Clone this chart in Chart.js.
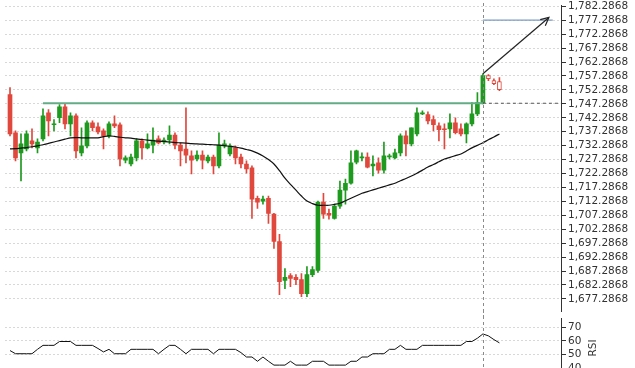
<!DOCTYPE html>
<html>
<head>
<meta charset="utf-8">
<script src="https://cdn.jsdelivr.net/npm/chart.js@4.4.1/dist/chart.umd.min.js"></script>
<style>
  html, body { margin: 0; padding: 0; background: #fff; overflow: hidden; }
  .box { position: absolute; left: 0; width: 635px; }
</style>
</head>
<body>
<div class="box" style="top:310px;height:68px"><canvas id="rsi" width="635" height="68"></canvas></div>
<div class="box" style="top:-3px;height:323px"><canvas id="main" width="635" height="323"></canvas></div>
<script>
// candles (index = bar number)
const opens = [1750.6,1736.9,1729.7,1731.1,1734.0,1731.5,1734.7,1744.1,1739.8,1742.3,
  1746.2,1740.1,1743.0,1729.7,1732.2,1740.5,1739.0,1737.6,1735.8,1740.1,
  1739.8,1727.1,1725.7,1727.9,1734.0,1731.5,1732.5,1734.7,1733.6,1734.3,
  1736.1,1732.5,1731.1,1728.6,1727.5,1728.9,1726.8,1728.2,1725.0,1732.2,
  1729.3,1731.5,1728.2,1725.7,1724.3,1713.4,1712.4,1713.4,1707.7,1697.9,
  1683.9,1685.7,1685.0,1684.2,1679.2,1686.0,1687.5,1712.0,1708.0,1706.2,
  1710.6,1716.3,1718.8,1726.4,1727.9,1728.2,1725.0,1726.1,1723.5,1728.2,
  1727.9,1729.7,1735.8,1732.9,1736.5,1743.7,1743.4,1741.6,1739.4,1738.3,
  1738.3,1740.5,1738.3,1736.5,1740.1,1743.7,1747.7,1757.4,1755.6,1755.3];
const highs = [1753.1,1737.6,1736.5,1737.6,1738.3,1734.7,1745.5,1745.2,1741.6,1747.0,
  1747.3,1744.1,1743.7,1738.7,1741.2,1741.2,1740.5,1738.3,1740.8,1743.0,
  1740.5,1728.6,1729.3,1734.7,1734.7,1736.5,1738.7,1735.8,1735.1,1739.4,
  1736.9,1733.3,1745.9,1730.4,1730.4,1730.4,1728.9,1728.9,1736.9,1734.3,
  1732.9,1732.2,1729.3,1726.8,1725.0,1714.2,1714.2,1714.2,1708.0,1700.5,
  1688.2,1686.4,1686.0,1686.4,1688.9,1688.9,1712.4,1715.2,1709.5,1711.3,
  1719.6,1720.3,1730.4,1730.7,1729.7,1729.7,1728.6,1727.9,1733.6,1729.3,
  1731.1,1736.5,1737.6,1738.7,1745.9,1744.8,1744.4,1743.0,1740.5,1740.1,
  1743.7,1742.3,1740.1,1740.5,1747.7,1751.3,1758.1,1757.8,1756.3,1756.7];
const lows = [1735.8,1726.8,1719.6,1730.4,1731.5,1729.7,1734.0,1735.8,1737.6,1740.5,
  1738.3,1735.8,1727.9,1728.6,1731.5,1737.6,1736.5,1731.1,1735.1,1738.7,
  1725.0,1726.1,1725.0,1726.8,1727.5,1731.1,1729.7,1732.9,1732.9,1732.9,
  1731.1,1725.0,1726.1,1722.1,1726.8,1723.9,1726.1,1722.1,1724.3,1731.5,
  1728.6,1725.7,1724.3,1722.4,1706.2,1709.8,1711.3,1704.4,1695.4,1678.8,
  1681.0,1681.7,1682.4,1678.1,1678.1,1685.3,1686.8,1706.2,1705.9,1705.9,
  1709.8,1711.3,1718.5,1725.7,1726.8,1724.3,1721.4,1722.4,1722.4,1727.5,
  1727.5,1728.6,1728.6,1732.2,1735.8,1743.4,1740.1,1737.6,1734.0,1731.1,
  1735.1,1736.5,1735.8,1733.3,1739.4,1743.0,1747.3,1755.6,1754.2,1752.0];
const closes = [1736.5,1727.9,1732.9,1736.5,1732.9,1733.6,1743.0,1741.2,1740.1,1746.2,
  1740.1,1743.0,1730.4,1732.2,1740.5,1738.7,1737.2,1735.8,1740.1,1739.4,
  1727.5,1727.9,1728.2,1734.0,1731.5,1732.9,1734.3,1733.3,1734.3,1736.1,
  1732.5,1730.4,1728.9,1727.1,1728.9,1727.1,1728.2,1725.0,1732.5,1732.9,
  1732.2,1727.9,1725.7,1723.9,1713.1,1712.0,1713.1,1708.0,1697.9,1683.5,
  1685.0,1684.6,1684.2,1679.2,1686.0,1687.8,1712.0,1707.7,1707.3,1710.6,
  1716.3,1718.8,1726.1,1730.4,1728.2,1724.6,1725.7,1723.5,1728.6,1728.6,
  1729.7,1735.8,1732.9,1738.7,1744.1,1744.1,1741.2,1739.8,1738.0,1738.0,
  1740.5,1736.9,1736.5,1740.1,1743.7,1747.7,1757.4,1756.3,1754.5,1752.4];
const ma = [1731.1,1731.2,1731.4,1731.6,1731.9,1732.2,1732.6,1733.1,1733.6,1734.1,
  1734.6,1735.1,1735.2,1735.1,1735.1,1735.1,1735.1,1735.5,1735.8,1735.6,
  1735.3,1735.1,1735.0,1734.7,1734.5,1734.3,1734.1,1733.9,1733.8,1733.6,
  1733.4,1733.3,1733.2,1733.0,1732.9,1732.8,1732.7,1732.6,1732.5,1732.3,
  1732.0,1731.8,1731.4,1730.9,1730.4,1729.6,1728.6,1727.3,1725.7,1723.3,
  1720.6,1718.4,1716.3,1714.2,1712.4,1711.5,1710.9,1710.9,1710.9,1711.2,
  1711.6,1712.5,1713.4,1714.3,1715.2,1715.8,1716.4,1717.0,1717.6,1718.2,
  1718.8,1719.7,1720.5,1721.4,1722.4,1723.5,1724.6,1725.5,1726.5,1727.5,
  1728.1,1728.7,1729.3,1730.4,1731.5,1732.4,1733.3,1734.4,1735.4,1736.5];
const rsi = [53.0,50.7,50.7,50.7,50.7,53.9,56.8,56.8,56.8,59.6,
  59.6,59.6,56.8,56.8,56.8,56.8,54.5,52.0,53.9,50.7,
  50.7,50.7,53.9,53.9,53.9,53.9,53.9,50.7,53.9,56.8,
  56.8,53.9,50.7,53.9,53.9,53.9,53.9,50.7,53.9,53.9,
  53.9,53.9,51.5,48.3,48.3,45.2,48.3,45.2,42.4,42.4,
  42.4,45.2,42.4,42.4,42.4,45.2,45.2,45.2,42.4,42.4,
  42.4,42.4,45.2,45.2,48.3,48.3,50.7,50.7,50.7,53.9,
  53.9,56.8,53.9,53.9,53.9,56.8,56.8,56.8,56.8,56.8,
  56.8,56.8,56.8,59.6,59.6,62.0,65.1,63.7,61.0,58.6];

const priceTicks = [1677.2868,1682.2868,1687.2868,1692.2868,1697.2868,1702.2868,1707.2868,
  1712.2868,1717.2868,1722.2868,1727.2868,1732.2868,1737.2868,1742.2868,1747.2868,
  1752.2868,1757.2868,1762.2868,1767.2868,1772.2868,1777.2868,1782.2868];
const rsiTicks = [40, 50, 60, 70];

// drawn lines on the chart
const breakoutLevel = 1747.5;
const breakoutFrom = 6;
const cutIndex = 86;          // vertical marker
const targetLevel = 1777.3;
const targetTo = 98.7;
const arrowFrom = [86, 1758.1];
const arrowTo = [98, 1778.3];
const liveFrom = 87;          // bars drawn hollow

const UP = '#1e9a1e';
const DOWN = '#e0483d';
const font = { family: 'DejaVu Sans', size: 10.5 };
const xMin = -0.91, xMax = 100.2;

const idx = opens.map((_, i) => i);
const colorOf = i => closes[i] >= opens[i] ? UP : DOWN;

const vline = {
  id: 'vline',
  afterDatasetsDraw(chart) {
    const { ctx, scales: { x } } = chart;
    const px = Math.round(x.getPixelForValue(cutIndex)) + 0.5;
    ctx.save();
    ctx.strokeStyle = '#8a8a8a';
    ctx.lineWidth = 1;
    ctx.setLineDash([3, 3]);
    ctx.beginPath();
    ctx.moveTo(px, 0);
    ctx.lineTo(px, chart.height);
    ctx.stroke();
    ctx.restore();
  }
};

const arrowHead = {
  id: 'arrowHead',
  afterDatasetsDraw(chart) {
    const { ctx, scales: { x, y } } = chart;
    const x0 = x.getPixelForValue(arrowFrom[0]), y0 = y.getPixelForValue(arrowFrom[1]);
    const x1 = x.getPixelForValue(arrowTo[0]), y1 = y.getPixelForValue(arrowTo[1]);
    const a = Math.atan2(y1 - y0, x1 - x0);
    const len = 9;
    ctx.save();
    ctx.strokeStyle = '#222';
    ctx.lineWidth = 1.2;
    ctx.beginPath();
    ctx.moveTo(x1 - len * Math.cos(a - 0.45), y1 - len * Math.sin(a - 0.45));
    ctx.lineTo(x1, y1);
    ctx.lineTo(x1 - len * Math.cos(a + 0.45), y1 - len * Math.sin(a + 0.45));
    ctx.stroke();
    ctx.restore();
  }
};

const rsiTitle = {
  id: 'rsiTitle',
  afterDraw(chart) {
    const { ctx, chartArea } = chart;
    ctx.save();
    ctx.translate(593, (chartArea.top + chartArea.bottom) / 2 + 4);
    ctx.rotate(-Math.PI / 2);
    ctx.font = '10.5px "DejaVu Sans"';
    ctx.fillStyle = '#333';
    ctx.textAlign = 'center';
    ctx.textBaseline = 'middle';
    ctx.fillText('RSI', 0, 0);
    ctx.restore();
  }
};

const fmt = v => v.toLocaleString('en-US', { minimumFractionDigits: 4, maximumFractionDigits: 4 });

new Chart(document.getElementById('main'), {
  type: 'bar',
  data: {
    datasets: [
      {
        type: 'line', order: 0,
        data: idx.map(i => ({ x: i, y: ma[i] })),
        borderColor: '#111', borderWidth: 1.2, pointRadius: 0, tension: 0.3
      },
      {
        type: 'line', order: 1,
        data: [{ x: breakoutFrom, y: breakoutLevel }, { x: cutIndex, y: breakoutLevel }],
        borderColor: '#63ad86', borderWidth: 2, pointRadius: 0
      },
      {
        type: 'line', order: 1,
        data: [{ x: cutIndex, y: breakoutLevel }, { x: xMax, y: breakoutLevel }],
        borderColor: '#555', borderWidth: 1, borderDash: [3, 3], pointRadius: 0
      },
      {
        type: 'line', order: 1,
        data: [{ x: cutIndex, y: targetLevel }, { x: targetTo, y: targetLevel }],
        borderColor: '#7b9cc4', borderWidth: 1.2, pointRadius: 0
      },
      {
        type: 'line', order: 0,
        data: [{ x: arrowFrom[0], y: arrowFrom[1] }, { x: arrowTo[0], y: arrowTo[1] }],
        borderColor: '#222', borderWidth: 1.2, pointRadius: 0
      },
      {
        order: 2, grouped: false,
        data: idx.map(i => ({ x: i, y: [opens[i], closes[i]] })),
        backgroundColor: idx.map(i => i >= liveFrom ? '#fff' : colorOf(i)),
        borderColor: idx.map(i => colorOf(i)),
        borderWidth: idx.map(i => i >= liveFrom ? 1 : 0),
        borderSkipped: false,
        barThickness: 4, minBarLength: 1
      },
      {
        order: 3, grouped: false,
        data: idx.map(i => ({ x: i, y: [lows[i], highs[i]] })),
        backgroundColor: idx.map(i => colorOf(i)),
        barThickness: 1
      }
    ]
  },
  options: {
    responsive: false,
    animation: false,
    layout: { padding: { left: 5, top: 0, right: 0, bottom: 0 } },
    plugins: { legend: { display: false }, tooltip: { enabled: false } },
    scales: {
      x: { type: 'linear', min: xMin, max: xMax, offset: false, display: false },
      y: {
        position: 'right',
        min: 1672.7, max: 1782.65,
        afterBuildTicks: s => { s.ticks = priceTicks.map(v => ({ value: v })); },
        afterFit: s => { s.width = 74; },
        ticks: { font, color: '#333', padding: 2, autoSkip: false, callback: v => fmt(v) },
        grid: { color: '#d8d8d8', tickColor: '#333', tickLength: 5, tickBorderDash: [] },
        border: { color: '#333', dash: [2, 2] }
      }
    }
  },
  plugins: [vline, arrowHead]
});

new Chart(document.getElementById('rsi'), {
  type: 'line',
  data: {
    datasets: [{
      data: idx.map(i => ({ x: i, y: rsi[i] })),
      borderColor: '#111', borderWidth: 1, pointRadius: 0
    }]
  },
  options: {
    responsive: false,
    animation: false,
    layout: { padding: { left: 5, top: 5.2, right: 0, bottom: 0 } },
    plugins: { legend: { display: false }, tooltip: { enabled: false } },
    scales: {
      x: { type: 'linear', min: xMin, max: xMax, offset: false, display: false },
      y: {
        position: 'right',
        min: 39.06, max: 76.5,
        afterBuildTicks: s => { s.ticks = rsiTicks.map(v => ({ value: v })); },
        afterFit: s => { s.width = 74; },
        ticks: { font, color: '#333', padding: 2, autoSkip: false },
        grid: { color: '#d8d8d8', tickColor: '#333', tickLength: 5, tickBorderDash: [] },
        border: { color: '#333', dash: [2, 2] }
      }
    }
  },
  plugins: [vline, rsiTitle]
});
</script>
</body>
</html>
